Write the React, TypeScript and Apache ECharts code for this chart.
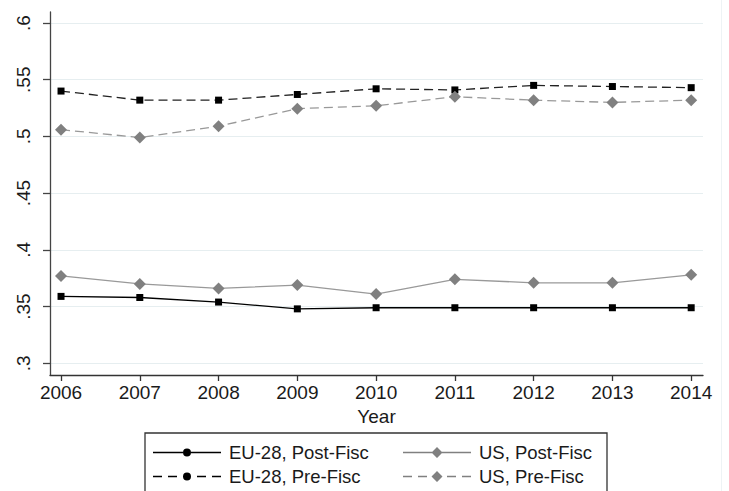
import React, { useEffect, useRef } from "react";
import * as echarts from "echarts";

const years = [2006, 2007, 2008, 2009, 2010, 2011, 2012, 2013, 2014];
const euPost = [0.359, 0.358, 0.354, 0.348, 0.349, 0.349, 0.349, 0.349, 0.349];
const usPost = [0.377, 0.370, 0.366, 0.369, 0.361, 0.374, 0.371, 0.371, 0.378];
const euPre = [0.540, 0.532, 0.532, 0.537, 0.542, 0.541, 0.545, 0.544, 0.543];
const usPre = [0.506, 0.499, 0.509, 0.5245, 0.527, 0.535, 0.532, 0.530, 0.532];
const yTicks = [0.3, 0.35, 0.4, 0.45, 0.5, 0.55, 0.6];
const seriesNames = ["EU-28, Post-Fisc", "US, Post-Fisc", "EU-28, Pre-Fisc", "US, Pre-Fisc"];

const FONT = "Liberation Sans, Arial, sans-serif";

// legend icons (line sample + marker), drawn in a 68-wide box
const CIRCLE = "M38,4A4,4 0 1,1 30,4A4,4 0 1,1 38,4Z";
const ICON_EU_POST = "path://M0,3.35H30V4.65H0Z M38,3.35H68V4.65H38Z " + CIRCLE;
const ICON_EU_PRE =
  "path://M0,3.35H9V4.65H0Z M15,3.35H24V4.65H15Z M44,3.35H53V4.65H44Z M59,3.35H68V4.65H59Z " + CIRCLE;
const DIAMOND = "M34,0L39.5,5.5L34,11L28.5,5.5Z";
const ICON_US_POST = "path://M0,4.85H29V6.15H0Z M39,4.85H68V6.15H39Z " + DIAMOND;
const ICON_US_PRE =
  "path://M0,4.85H9V6.15H0Z M15,4.85H24V6.15H15Z M44,4.85H53V6.15H44Z M59,4.85H68V6.15H59Z " + DIAMOND;

export default function App() {
  const ref = useRef<HTMLDivElement>(null);
  useEffect(() => {
    if (!ref.current) return;
    const chart = echarts.init(ref.current, null, { renderer: "svg" });
    const pairs = (vals: number[]) => years.map((y, i) => [y, vals[i]]);
    const black = "#000000";
    const grayMarker = "#808080";
    const grayLine = "#999999";
    const legendBase = {
      orient: "vertical",
      top: 443,
      padding: 0,
      itemWidth: 68,
      itemGap: 5,
      textStyle: { fontSize: 18.5, color: "#1a1a1a", fontFamily: FONT, padding: [0, 0, 0, 3] },
    };
    chart.setOption({
      animation: false,
      backgroundColor: "#ffffff",
      textStyle: { fontFamily: FONT },
      grid: { left: 50, right: 26, top: 12, bottom: 116 },
      xAxis: {
        type: "value",
        min: 2005.86,
        max: 2014.15,
        name: "Year",
        nameLocation: "middle",
        nameGap: 29,
        nameTextStyle: { fontSize: 19, color: "#1a1a1a", fontFamily: FONT },
        axisLine: { show: true, onZero: false, lineStyle: { color: "#333", width: 1.3 } },
        axisTick: { show: true, length: 6, customValues: years, lineStyle: { color: "#333", width: 1.3 } },
        axisLabel: {
          customValues: years,
          fontSize: 19,
          color: "#1a1a1a",
          margin: 8,
          formatter: (v: number) => String(Math.round(v)),
        },
        splitLine: { show: false },
      },
      yAxis: {
        type: "value",
        min: 0.2897,
        max: 0.6097,
        axisLine: { show: true, onZero: false, lineStyle: { color: "#444", width: 1.3 } },
        axisTick: { show: true, length: 7, customValues: yTicks, lineStyle: { color: "#444", width: 1.3 } },
        axisLabel: {
          customValues: yTicks,
          rotate: 90,
          fontSize: 19,
          color: "#1a1a1a",
          margin: 17,
          formatter: (v: number) => String(Number(v.toFixed(2))).replace(/^0\./, "."),
        },
        splitLine: { show: true, lineStyle: { color: "#e6eef0", width: 1.2 } },
      },
      legend: [
        {
          ...legendBase,
          left: 153,
          itemHeight: 8,
          data: [
            { name: seriesNames[0], icon: ICON_EU_POST },
            { name: seriesNames[2], icon: ICON_EU_PRE },
          ],
        },
        {
          ...legendBase,
          left: 403,
          itemHeight: 11,
          data: [
            { name: seriesNames[1], icon: ICON_US_POST },
            { name: seriesNames[3], icon: ICON_US_PRE },
          ],
        },
      ],
      graphic: [
        {
          type: "rect",
          shape: { x: 145, y: 433, width: 462, height: 70 },
          style: { fill: "none", stroke: "#333", lineWidth: 1.3 },
          silent: true,
        },
        {
          type: "line",
          shape: { x1: 721.5, y1: 0, x2: 721.5, y2: 491 },
          style: { stroke: "#eef3f5", lineWidth: 1 },
          silent: true,
        },
      ],
      series: [
        {
          name: seriesNames[0],
          type: "line",
          data: pairs(euPost),
          symbol: "rect",
          symbolSize: 7,
          itemStyle: { color: black },
          lineStyle: { color: black, width: 1.3, type: "solid" },
        },
        {
          name: seriesNames[1],
          type: "line",
          data: pairs(usPost),
          symbol: "diamond",
          symbolSize: 12,
          itemStyle: { color: grayMarker },
          lineStyle: { color: grayLine, width: 1.3, type: "solid" },
        },
        {
          name: seriesNames[2],
          type: "line",
          data: pairs(euPre),
          symbol: "rect",
          symbolSize: 7,
          itemStyle: { color: black },
          lineStyle: { color: "#222", width: 1.3, type: [9, 5] },
        },
        {
          name: seriesNames[3],
          type: "line",
          data: pairs(usPre),
          symbol: "diamond",
          symbolSize: 12,
          itemStyle: { color: grayMarker },
          lineStyle: { color: grayLine, width: 1.3, type: [9, 5] },
        },
      ],
    });
    return () => chart.dispose();
  }, []);
  return (
    <div
      ref={ref}
      style={{ position: "fixed", left: 0, top: 0, width: 729, height: 491 }}
    />
  );
}
